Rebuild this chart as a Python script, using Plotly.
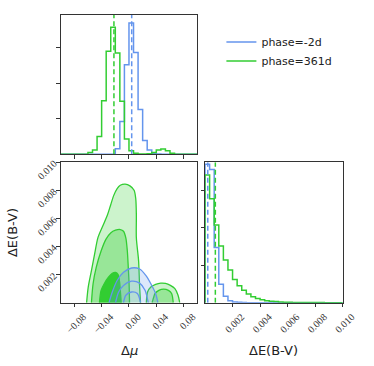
import numpy as np
import plotly.graph_objects as go

BLUE = "#6495ED"
GREEN = "#32CD32"

# 1D marginals: 30 bins over the plotted range, step histograms
n_bins = 30
mu_range = [-0.1, 0.1]
ebv_range = [0.0, 0.01]

mu_hist_blue = [0] * 12 + [0.16, 0.92, 2.52, 3.69, 2.86, 1.26, 0.39, 0.12, 0.03, 0.01] + [0] * 8
mu_hist_green = [0, 0, 0, 0, 0, 0, 0.05, 0.12, 0.50, 1.51, 2.90, 3.57, 2.85, 1.49, 0.43,
                 0.10, 0.03, 0.01, 0.01, 0.02, 0.05, 0.12, 0.15, 0.10, 0.03, 0, 0, 0, 0, 0]
ebv_hist_blue = [3.69, 3.55, 1.47, 0.49, 0.17, 0.05, 0.02, 0.01, 0.005] + [0] * 21
ebv_hist_green = [3.40, 2.77, 2.07, 1.51, 1.14, 0.87, 0.62, 0.45, 0.33, 0.23,
                  0.16, 0.11, 0.08, 0.05, 0.04, 0.03, 0.02, 0.015, 0.01, 0.008,
                  0.006, 0.005, 0.004, 0.003, 0.002, 0.002, 0.001, 0.001, 0.001, 0.001]

# medians (dashed lines)
mu_med_blue, mu_med_green = 0.004, -0.022
ebv_med_blue, ebv_med_green = 0.0002, 0.00075

# 2D contours (delta mu, delta E(B-V))
g_out_x = [-0.0620, -0.0596, -0.0549, -0.0503, -0.0455, -0.0385, -0.0314, -0.0268, -0.0221, -0.0173,
           -0.0127, -0.0056, 0.0014, 0.0075, 0.0099, 0.0108, 0.0108, 0.0141, 0.0155, 0.0169]
g_out_y = [0, 0.00111, 0.00228, 0.00345, 0.00462, 0.00544, 0.00626, 0.00696, 0.00766, 0.00813,
           0.00836, 0.00844, 0.00832, 0.00801, 0.00742, 0.00626, 0.00462, 0.00298, 0.00123, 0]
g_mid_x = [-0.0549, -0.0525, -0.0479, -0.0408, -0.0338, -0.0268, -0.0197, -0.0127, -0.0080,
           -0.0046, -0.0024, -0.0010, 0.0002, 0.0008]
g_mid_y = [0, 0.00135, 0.00251, 0.00368, 0.00451, 0.00497, 0.00516, 0.00521, 0.00509,
           0.00462, 0.00368, 0.00251, 0.00135, 0]
g_in_x = [-0.0432, -0.0408, -0.0362, -0.0300, -0.0244, -0.0197, -0.0159, -0.0137, -0.0123, -0.0113]
g_in_y = [0, 0.00088, 0.00135, 0.00181, 0.00209, 0.00216, 0.00200, 0.00146, 0.00065, 0]
g_out2_x = [0.0254, 0.0272, 0.0320, 0.0390, 0.0465, 0.0535, 0.0606, 0.0672, 0.0718, 0.0742]
g_out2_y = [0, 0.00076, 0.00111, 0.00130, 0.00139, 0.00137, 0.00123, 0.00100, 0.00053, 0]
g_mid2_x = [0.0338, 0.0366, 0.0380, 0.0437, 0.0507, 0.0577, 0.0624, 0.0648]
g_mid2_y = [0, 0.00046, 0.00065, 0.00088, 0.00097, 0.00088, 0.00065, 0]

b_out_x = [-0.0292, -0.0244, -0.0173, -0.0080, 0.0038, 0.0155, 0.0249, 0.0320, 0.0390, 0.0423]
b_out_y = [0, 0.00076, 0.00158, 0.00216, 0.00247, 0.00240, 0.00193, 0.00135, 0.00065, 0]
b_mid_x = [-0.0197, -0.0151, -0.0080, 0.0038, 0.0155, 0.0235, 0.0282]
b_mid_y = [0, 0.00076, 0.00123, 0.00153, 0.00139, 0.00088, 0]
b_in_x = [-0.0080, -0.0046, 0.0038, 0.0123, 0.0169]
b_in_y = [0, 0.00053, 0.00076, 0.00065, 0]

mu_ticks = [-0.08, -0.04, 0.0, 0.04, 0.08]
mu_ticktext = ["\u22120.08", "\u22120.04", "0.00", "0.04", "0.08"]
ebv_ticks = [0.002, 0.004, 0.006, 0.008, 0.010]
ebv_ticktext = ["0.002", "0.004", "0.006", "0.008", "0.010"]


def step_trace(counts, rng, color, xa, ya, name=None):
    edges = np.linspace(rng[0], rng[1], len(counts) + 1)
    xs = [edges[0]] + list(edges)
    ys = [0] + list(counts) + [counts[-1]]
    xs.append(edges[-1])
    ys.append(0)
    return go.Scatter(x=xs, y=ys, mode="lines", line=dict(color=color, width=1.5, shape="hv"),
                      xaxis=xa, yaxis=ya, name=name, showlegend=name is not None)


def contour(xs, ys, line_color, fill_color=None):
    return go.Scatter(x=xs, y=ys, mode="lines", xaxis="x2", yaxis="y2",
                      line=dict(color=line_color, width=1.3, shape="spline", smoothing=0.8),
                      fill="toself" if fill_color else None, fillcolor=fill_color,
                      showlegend=False, hoverinfo="skip")


fig = go.Figure()

# top-left: delta mu marginal
fig.add_trace(step_trace(mu_hist_blue, mu_range, BLUE, "x", "y", "phase=-2d"))
fig.add_trace(step_trace(mu_hist_green, mu_range, GREEN, "x", "y", "phase=361d"))

# bottom-right: E(B-V) marginal
fig.add_trace(step_trace(ebv_hist_blue, ebv_range, BLUE, "x3", "y3"))
fig.add_trace(step_trace(ebv_hist_green, ebv_range, GREEN, "x3", "y3"))

# dashed medians
for val, col in [(mu_med_green, GREEN), (mu_med_blue, BLUE)]:
    fig.add_trace(go.Scatter(x=[val, val], y=[0, 3.92], mode="lines", xaxis="x", yaxis="y",
                             line=dict(color=col, width=1.5, dash="5px,3px"), showlegend=False))
for val, col in [(ebv_med_blue, BLUE), (ebv_med_green, GREEN)]:
    fig.add_trace(go.Scatter(x=[val, val], y=[0, 3.74], mode="lines", xaxis="x3", yaxis="y3",
                             line=dict(color=col, width=1.5, dash="5px,3px"), showlegend=False))

# bottom-left: 2D contours, green first then blue on top
fig.add_trace(contour(g_out_x, g_out_y, GREEN, "rgb(204,243,204)"))
fig.add_trace(contour(g_out2_x, g_out2_y, GREEN, "rgb(204,243,204)"))
fig.add_trace(contour(g_mid_x, g_mid_y, GREEN, "rgb(152,230,152)"))
fig.add_trace(contour(g_mid2_x, g_mid2_y, GREEN, "rgb(152,230,152)"))
fig.add_trace(contour(g_in_x, g_in_y, GREEN, GREEN))
fig.add_trace(contour(b_out_x, b_out_y, BLUE, "rgba(100,149,237,0.22)"))
fig.add_trace(contour(b_mid_x, b_mid_y, BLUE))
fig.add_trace(contour(b_in_x, b_in_y, BLUE))

frame = dict(showline=True, mirror=True, linecolor="#333", linewidth=1, showgrid=False,
             zeroline=False, ticks="outside", ticklen=3.5, tickcolor="#333", tickwidth=1)
tickfont = dict(family="Liberation Serif", size=10, color="#333")

fig.update_layout(
    width=374, height=366,
    margin=dict(l=0, r=0, t=0, b=0),
    paper_bgcolor="white", plot_bgcolor="white",
    xaxis=dict(domain=[0.1684, 0.5481], anchor="y", range=mu_range, tickvals=mu_ticks,
               showticklabels=False, **frame),
    yaxis=dict(domain=[0.5847, 0.9699], anchor="x", range=[0, 3.92], tickvals=[1, 2, 3],
               showticklabels=False, **frame),
    xaxis2=dict(domain=[0.1684, 0.5481], anchor="y2", range=mu_range, tickvals=mu_ticks,
                ticktext=mu_ticktext, tickangle=-45, tickfont=tickfont, ticklabelshift=9, **frame),
    yaxis2=dict(domain=[0.1749, 0.5628], anchor="x2", range=ebv_range, tickvals=ebv_ticks,
                ticktext=ebv_ticktext, tickangle=-45, tickfont=tickfont, **frame),
    xaxis3=dict(domain=[0.5695, 0.9519], anchor="y3", range=ebv_range, tickvals=ebv_ticks,
                ticktext=ebv_ticktext, tickangle=-45, tickfont=tickfont, ticklabelshift=9, **frame),
    yaxis3=dict(domain=[0.1749, 0.5628], anchor="x3", range=[0, 3.74], tickvals=[1, 2, 3],
                showticklabels=False, **frame),
    legend=dict(x=0.615, y=0.935, xanchor="left", yanchor="top", bgcolor="rgba(0,0,0,0)",
                font=dict(family="DejaVu Sans", size=11, color="#222"), tracegroupgap=0),
    showlegend=True,
)

title_font = dict(family="DejaVu Sans", size=13, color="#222")
fig.add_annotation(text="\u0394<i>\u03bc</i>", x=0.360, y=0.044, xref="paper", yref="paper",
                   xanchor="center", yanchor="middle", showarrow=False, font=title_font)
fig.add_annotation(text="\u0394E(B-V)", x=0.761, y=0.044, xref="paper", yref="paper",
                   xanchor="center", yanchor="middle", showarrow=False, font=title_font)
fig.add_annotation(text="\u0394E(B-V)", x=0.035, y=0.369, xref="paper", yref="paper",
                   xanchor="center", yanchor="middle", textangle=-90, showarrow=False, font=title_font)

# page body has a default 8px margin; drop it so the figure sits at the window origin
fig.write_html("out.html", config={"displayModeBar": False},
               post_script="document.body.style.margin='0';"
                           "document.documentElement.style.overflow='hidden';")
